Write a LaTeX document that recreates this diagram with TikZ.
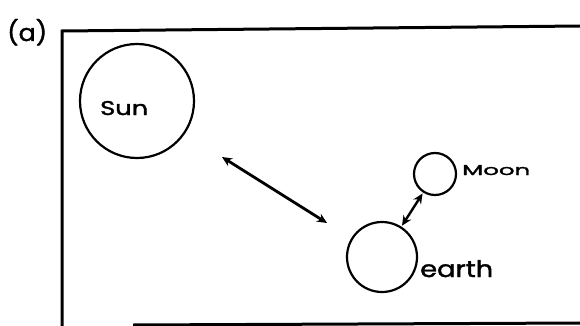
\documentclass[tikz,border=0pt]{standalone}
\usepackage{fontspec}
\setmainfont{Poppins}
\newfontfamily\hand{Poppins}[FakeBold=1.5]
\usepackage{graphicx}
\usetikzlibrary{arrows.meta}
\tikzset{
  body/.style={draw, circle, line width=2.2pt, inner sep=0pt},
  frameline/.style={line width=3pt},
  link/.style={line width=2.8pt, {Stealth[length=10pt,width=9pt]}-{Stealth[length=10pt,width=9pt]}},
  lbl/.style={inner sep=0pt, font=\hand}
}
\begin{document}
\begin{tikzpicture}[x=1pt,y=-1pt]
\useasboundingbox (0,0) rectangle (580,326);
% frame
\draw[frameline] (62,327) -- (62,31) -- (581,26);
\draw[frameline] (133,325) -- (581,323);
% bodies
\node[body, minimum size=114pt] (sun) at (137,101) {};
\node[body, minimum size=42pt] (moon) at (435,174) {};
\node[body, minimum size=70pt] (earth) at (382,257) {};
% labels
\node[lbl, anchor=base west] (sunlbl) at (100,115) {\resizebox{48pt}{14pt}{Sun}};
\node[lbl, anchor=base west] (moonlbl) at (462,175) {\resizebox{68pt}{10pt}{Moon}};
\node[lbl, anchor=base west] (earthlbl) at (420,277) {\resizebox{73pt}{17pt}{earth}};
\node[lbl, anchor=base west] (tag) at (7,41) {\resizebox{40pt}{22pt}{(a)}};
% connectors
\coordinate (la) at (222,157);
\coordinate (lb) at (327,223);
\draw[link] (la) -- (lb);
\draw[link, line width=2.4pt, shorten <=1pt, shorten >=1pt] (earth) -- (moon);
\end{tikzpicture}
\end{document}
